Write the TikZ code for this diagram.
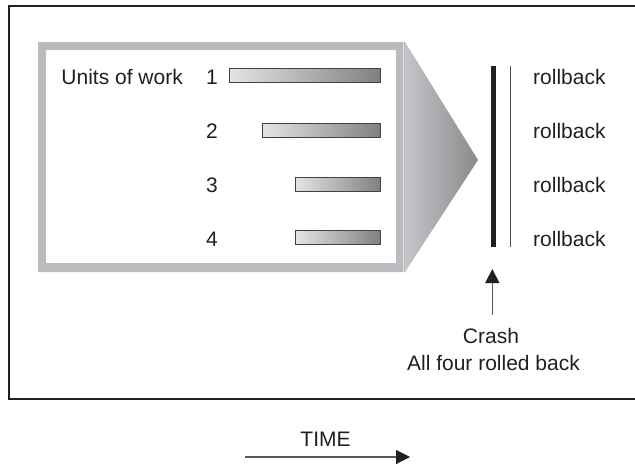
\documentclass[tikz,border=0pt]{standalone}
\usepackage{fontspec}
\setmainfont{Liberation Sans}
\usetikzlibrary{arrows.meta}
\definecolor{framegray}{RGB}{186,187,190}
\definecolor{trileft}{RGB}{196,197,200}
\definecolor{tipgray}{RGB}{138,138,141}
\definecolor{barleft}{RGB}{228,228,228}
\definecolor{barright}{RGB}{128,128,128}
\definecolor{ink}{RGB}{35,31,32}
\begin{document}
\begin{tikzpicture}[x=1pt,y=-1pt,
  lbl/.style={font=\fontsize{21}{24}\selectfont, text=ink, inner sep=0pt, anchor=base},
  rb/.style={lbl, anchor=base west},
  bar/.style={draw=ink!85, line width=0.9pt, left color=barleft, right color=barright,
              minimum height=14pt, inner sep=0pt, anchor=east},
  arr/.style={draw=ink!75, line width=1.1pt, -{Triangle[length=14pt,width=14pt,fill=ink,color=ink]}},
]
\useasboundingbox (0,0) rectangle (635,466);
% outer frame
\draw[line width=1.2pt, ink] (636,6) -- (9,6) -- (9,399) -- (636,399);
% gray frame with arrow
\fill[framegray, even odd rule] (38,42) rectangle (405,272) (46,50) rectangle (396,263);
\shade[left color=trileft, right color=tipgray] (405,42) -- (478,160) -- (405,272) -- cycle;
\draw[white, line width=0.8pt, opacity=0.6] (403.5,42) -- (403.5,272);
% labels
\node[lbl, anchor=base east] (units) at (183,84) {Units of work};
\node[lbl] (n1) at (212,84) {1};
\node[lbl] (n2) at (212,138.5) {2};
\node[lbl] (n3) at (212,192.5) {3};
\node[lbl] (n4) at (212,246) {4};
% bars
\node[bar, minimum width=151pt] (b1) at (381,75.5) {};
\node[bar, minimum width=118pt] (b2) at (381,130) {};
\node[bar, minimum width=85pt] (b3) at (381,184) {};
\node[bar, minimum width=85pt] (b4) at (381,237.5) {};
% crash lines
\coordinate (thicktop) at (493.7,66);
\coordinate (thickbot) at (493.7,247);
\coordinate (thintop) at (510.7,66);
\coordinate (thinbot) at (510.7,247);
\draw[line width=5pt, ink] (thicktop) -- (thickbot);
\draw[line width=1pt, ink!80] (thintop) -- (thinbot);
% rollback labels
\node[rb] (r1) at (533,84) {rollback};
\node[rb] (r2) at (533,138.5) {rollback};
\node[rb] (r3) at (533,192.5) {rollback};
\node[rb] (r4) at (533,246) {rollback};
% crash
\node[lbl] (crash) at (491,343) {Crash};
\node[lbl] (allfour) at (493.5,370) {All four rolled back};
\coordinate (crashtip) at (492.3,269);
\draw[arr] ([yshift=13pt]crash.north -| crashtip) -- (crashtip);
% time
\node[lbl] (time) at (325.5,446) {TIME};
\coordinate (tstart) at (245,457);
\coordinate (tend) at (410,457);
\draw[arr] (tstart) -- (tend);
\end{tikzpicture}
\end{document}
